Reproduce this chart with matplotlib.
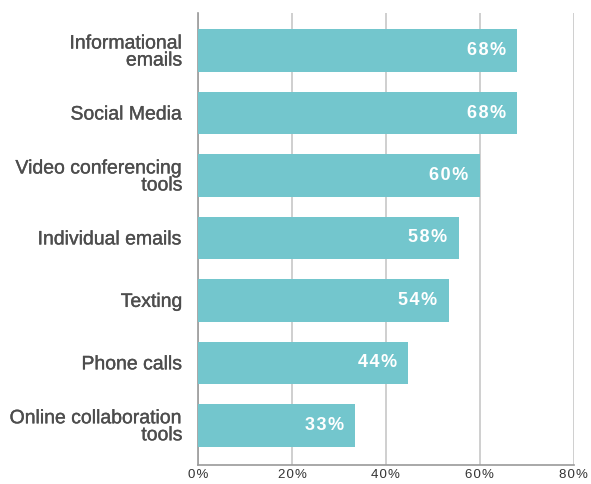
import matplotlib.pyplot as plt
import matplotlib.patheffects as pe
import numpy as np

categories = ["Informational\nemails", "Social Media", "Video conferencing\ntools",
              "Individual emails", "Texting", "Phone calls",
              "Online collaboration\ntools"]
values = [68, 68, 60, 55.5, 53.4, 44.7, 33.5]
value_labels = ["68%", "68%", "60%", "58%", "54%", "44%", "33%"]
xticks = [0, 20, 40, 60, 80]
xtick_labels = ["0%", "20%", "40%", "60%", "80%"]

bar_color = "#73C6CD"
label_color = "#4d4d4d"
fonts = ["Liberation Sans", "DejaVu Sans"]


def spaced(s, sep="\u200a"):
    # a bit of letter spacing, like the original
    return sep.join(s)


fig = plt.figure(figsize=(5.91, 4.84), dpi=100)
ax = fig.add_axes([0.335, 0.04, 0.636, 0.933])

y = np.arange(len(categories))
bars = ax.barh(y, values, height=0.68, color=bar_color, zorder=3)

for bar, lab in zip(bars, value_labels):
    ax.text(bar.get_width() - 2.4, bar.get_y() + bar.get_height() / 2, spaced(lab),
            ha="right", va="center", color="white", fontsize=13,
            fontweight="bold", family=fonts, zorder=4)

ax.set_xlim(0, 80)
ax.set_ylim(6.63, -0.6)
ax.set_xticks(xticks)
ax.set_xticklabels([spaced(t) for t in xtick_labels], fontsize=9.5,
                   color="#333333", family=fonts)
ax.set_yticks(y)
ax.set_yticklabels(categories, fontsize=14, color=label_color, family=fonts,
                   linespacing=1.0)
# labels in the original are a medium weight, thicken slightly
for t in ax.get_yticklabels():
    t.set_path_effects([pe.withStroke(linewidth=0.25, foreground=label_color)])
ax.tick_params(axis="both", length=0)
ax.tick_params(axis="y", pad=11)
ax.tick_params(axis="x", pad=3)

ax.grid(axis="x", color="#cfcfcf", linewidth=1.4, zorder=0)
ax.grid(axis="y", visible=False)
for side in ["top", "right"]:
    ax.spines[side].set_visible(False)
for side in ["left", "bottom"]:
    ax.spines[side].set_color("#9a9a9a")
    ax.spines[side].set_linewidth(1.2)

plt.savefig("out.png", dpi=100)
